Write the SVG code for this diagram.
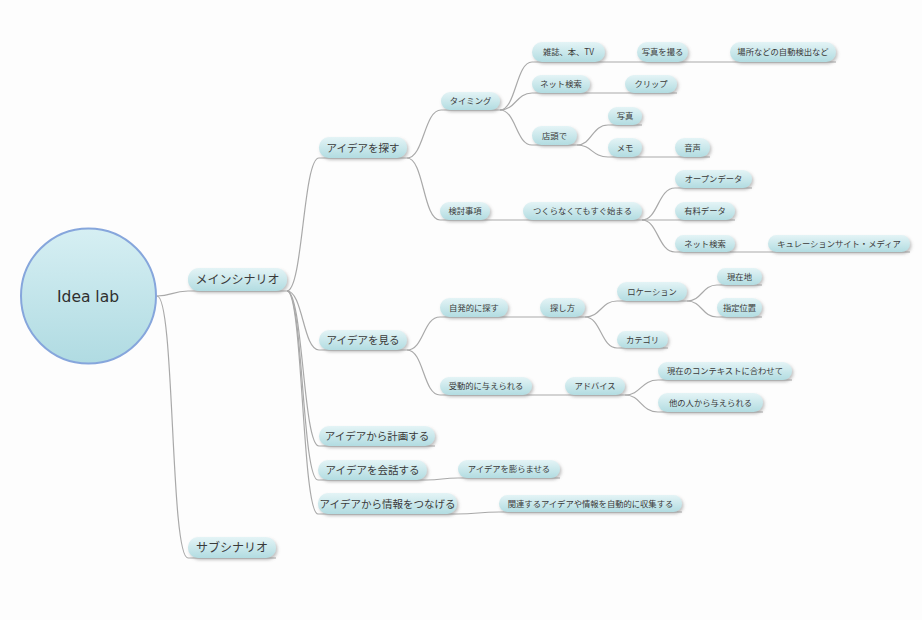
<svg xmlns="http://www.w3.org/2000/svg" width="922" height="620" viewBox="0 0 922 620">
<defs>
<linearGradient id="ng" x1="0" y1="0" x2="0" y2="1">
<stop offset="0" stop-color="#e4f4f6"/>
<stop offset="1" stop-color="#b2dce1"/>
</linearGradient>
<linearGradient id="cg" x1="0" y1="0" x2="0" y2="1">
<stop offset="0" stop-color="#d6eff3"/>
<stop offset="1" stop-color="#b0dbe2"/>
</linearGradient>
<filter id="sh" x="-20%" y="-40%" width="140%" height="200%">
<feDropShadow dx="1.5" dy="2" stdDeviation="1.5" flood-color="#777" flood-opacity="0.45"/>
</filter>
</defs>
<style>
.n rect{fill:url(#ng);filter:url(#sh);}
.n text{font-family:"Noto Sans CJK JP","Noto Sans",sans-serif;fill:#3a3a3a;text-anchor:middle;}
.l1 text{font-size:12px;}
.l2 text{font-size:10.5px;}
.l3 text{font-size:8.3px;}
#links path{fill:none;stroke:#a9a9a9;stroke-width:1.2;}
</style>
<rect width="922" height="620" fill="#fdfdfd"/>
<g id="links">
<path d="M157,296 C172,296 172,291 188,291 H287"/>
<path d="M157,296 C175,296 170,558 188,558 H276"/>
<path d="M287,291 C303,291 303,158 319,158 H407"/>
<path d="M287,291 C303,291 303,350 319,350 H407"/>
<path d="M287,291 C303,291 303,446 319,446 H435"/>
<path d="M287,291 C303,291 302,480 318,480 H427"/>
<path d="M287,291 C303,291 302,514 318,514 H457"/>
<path d="M407,158 C424,158 424,110 441,110 H500"/>
<path d="M407,158 C424,158 423,220 440,220 H490"/>
<path d="M500,110 C516,110 516,62 532,62 H605"/>
<path d="M500,110 C516,110 516,93 532,93 H590"/>
<path d="M500,110 C516,110 516,145 532,145 H577"/>
<path d="M605,62 H688"/>
<path d="M688,62 H836"/>
<path d="M590,93 H677"/>
<path d="M577,145 C592,145 592,125 608,125 H642"/>
<path d="M577,145 C592,145 592,157 608,157 H642"/>
<path d="M642,157 H710"/>
<path d="M490,220 H642"/>
<path d="M642,220 C658,220 658,188 675,188 H752"/>
<path d="M642,220 H735"/>
<path d="M642,220 C658,220 658,252 675,252 H735"/>
<path d="M735,252 H910"/>
<path d="M407,350 C424,350 423,317 440,317 H508"/>
<path d="M407,350 C424,350 423,395 440,395 H532"/>
<path d="M508,317 H585"/>
<path d="M585,317 C601,317 601,301 617,301 H687"/>
<path d="M585,317 C601,317 601,348 617,348 H668"/>
<path d="M687,301 C702,301 702,285 717,285 H762"/>
<path d="M687,301 C702,301 702,317 717,317 H762"/>
<path d="M532,395 H625"/>
<path d="M625,395 C641,395 641,380 658,380 H792"/>
<path d="M625,395 C641,395 641,412 658,412 H763"/>
<path d="M427,480 C442,480 442,478 458,478 H560"/>
<path d="M457,514 C478,514 478,512 499,512 H682"/>
</g>
<g id="root">
<circle cx="88.5" cy="296" r="67.5" fill="url(#cg)" stroke="#86a6dc" stroke-width="2"/>
<text x="88" y="302" font-family="DejaVu Sans,Verdana,sans-serif" font-size="15.5" fill="#2f2f2f" text-anchor="middle">Idea lab</text>
</g>
<g id="main" class="n l1"><rect x="188" y="268" width="99" height="23" rx="11"/><text x="237.5" y="284">メインシナリオ</text></g>
<g id="sub" class="n l1"><rect x="188" y="537" width="88" height="21" rx="10"/><text x="232" y="552">サブシナリオ</text></g>
<g id="find" class="n l2"><rect x="319" y="137" width="88" height="21" rx="10"/><text x="363" y="151.5">アイデアを探す</text></g>
<g id="see" class="n l2"><rect x="319" y="330" width="88" height="20" rx="10"/><text x="363" y="344">アイデアを見る</text></g>
<g id="plan" class="n l2"><rect x="319" y="426" width="116" height="20" rx="10"/><text x="377" y="440">アイデアから計画する</text></g>
<g id="talk" class="n l2"><rect x="318" y="460" width="109" height="20" rx="10"/><text x="372.5" y="474">アイデアを会話する</text></g>
<g id="connect" class="n l2"><rect x="318" y="493" width="139" height="21" rx="10"/><text x="387.5" y="507.5">アイデアから情報をつなげる</text></g>
<g id="expand" class="n l3"><rect x="458" y="460" width="102" height="18" rx="9"/><text x="509" y="472">アイデアを膨らませる</text></g>
<g id="collect" class="n l3"><rect x="499" y="495" width="183" height="17" rx="8.5"/><text x="590.5" y="506.5">関連するアイデアや情報を自動的に収集する</text></g>
<g id="timing" class="n l3"><rect x="441" y="92" width="59" height="18" rx="9"/><text x="470.5" y="104">タイミング</text></g>
<g id="magazine" class="n l3"><rect x="532" y="42" width="73" height="20" rx="10"/><text x="568.5" y="55">雑誌、本、TV</text></g>
<g id="photoshoot" class="n l3"><rect x="637" y="42" width="51" height="20" rx="10"/><text x="662.5" y="55">写真を撮る</text></g>
<g id="autodetect" class="n l3"><rect x="730" y="42" width="106" height="20" rx="10"/><text x="783" y="55">場所などの自動検出など</text></g>
<g id="netsearch1" class="n l3"><rect x="532" y="75" width="58" height="18" rx="9"/><text x="561" y="87">ネット検索</text></g>
<g id="clip" class="n l3"><rect x="625" y="75" width="52" height="18" rx="9"/><text x="651" y="87">クリップ</text></g>
<g id="store" class="n l3"><rect x="532" y="126" width="45" height="19" rx="9.5"/><text x="554.5" y="138.5">店頭で</text></g>
<g id="photo" class="n l3"><rect x="608" y="107" width="34" height="18" rx="9"/><text x="625" y="119">写真</text></g>
<g id="memo" class="n l3"><rect x="608" y="138" width="34" height="19" rx="9.5"/><text x="625" y="150.5">メモ</text></g>
<g id="voice" class="n l3"><rect x="675" y="138" width="35" height="19" rx="9.5"/><text x="692.5" y="150.5">音声</text></g>
<g id="consider" class="n l3"><rect x="440" y="202" width="50" height="18" rx="9"/><text x="465" y="214">検討事項</text></g>
<g id="startnow" class="n l3"><rect x="523" y="202" width="119" height="18" rx="9"/><text x="582.5" y="214">つくらなくてもすぐ始まる</text></g>
<g id="opendata" class="n l3"><rect x="675" y="170" width="77" height="18" rx="9"/><text x="713.5" y="182">オープンデータ</text></g>
<g id="paiddata" class="n l3"><rect x="675" y="202" width="60" height="18" rx="9"/><text x="705" y="214">有料データ</text></g>
<g id="netsearch2" class="n l3"><rect x="675" y="235" width="60" height="17" rx="8.5"/><text x="705" y="246.5">ネット検索</text></g>
<g id="curation" class="n l3"><rect x="768" y="235" width="142" height="17" rx="8.5"/><text x="839" y="246.5">キュレーションサイト・メディア</text></g>
<g id="active" class="n l3"><rect x="440" y="298" width="68" height="19" rx="9.5"/><text x="474" y="310.5">自発的に探す</text></g>
<g id="howto" class="n l3"><rect x="540" y="298" width="45" height="19" rx="9.5"/><text x="562.5" y="310.5">探し方</text></g>
<g id="location" class="n l3"><rect x="617" y="282" width="70" height="19" rx="9.5"/><text x="652" y="294.5">ロケーション</text></g>
<g id="current" class="n l3"><rect x="717" y="268" width="45" height="17" rx="8.5"/><text x="739.5" y="279.5">現在地</text></g>
<g id="specified" class="n l3"><rect x="717" y="298" width="45" height="19" rx="9.5"/><text x="739.5" y="310.5">指定位置</text></g>
<g id="category" class="n l3"><rect x="617" y="331" width="51" height="17" rx="8.5"/><text x="642.5" y="342.5">カテゴリ</text></g>
<g id="passive" class="n l3"><rect x="440" y="377" width="92" height="18" rx="9"/><text x="486" y="389">受動的に与えられる</text></g>
<g id="advice" class="n l3"><rect x="565" y="377" width="60" height="18" rx="9"/><text x="595" y="389">アドバイス</text></g>
<g id="context" class="n l3"><rect x="658" y="362" width="134" height="18" rx="9"/><text x="725" y="374">現在のコンテキストに合わせて</text></g>
<g id="others" class="n l3"><rect x="658" y="393" width="105" height="19" rx="9.5"/><text x="710.5" y="405.5">他の人から与えられる</text></g>
</svg>
